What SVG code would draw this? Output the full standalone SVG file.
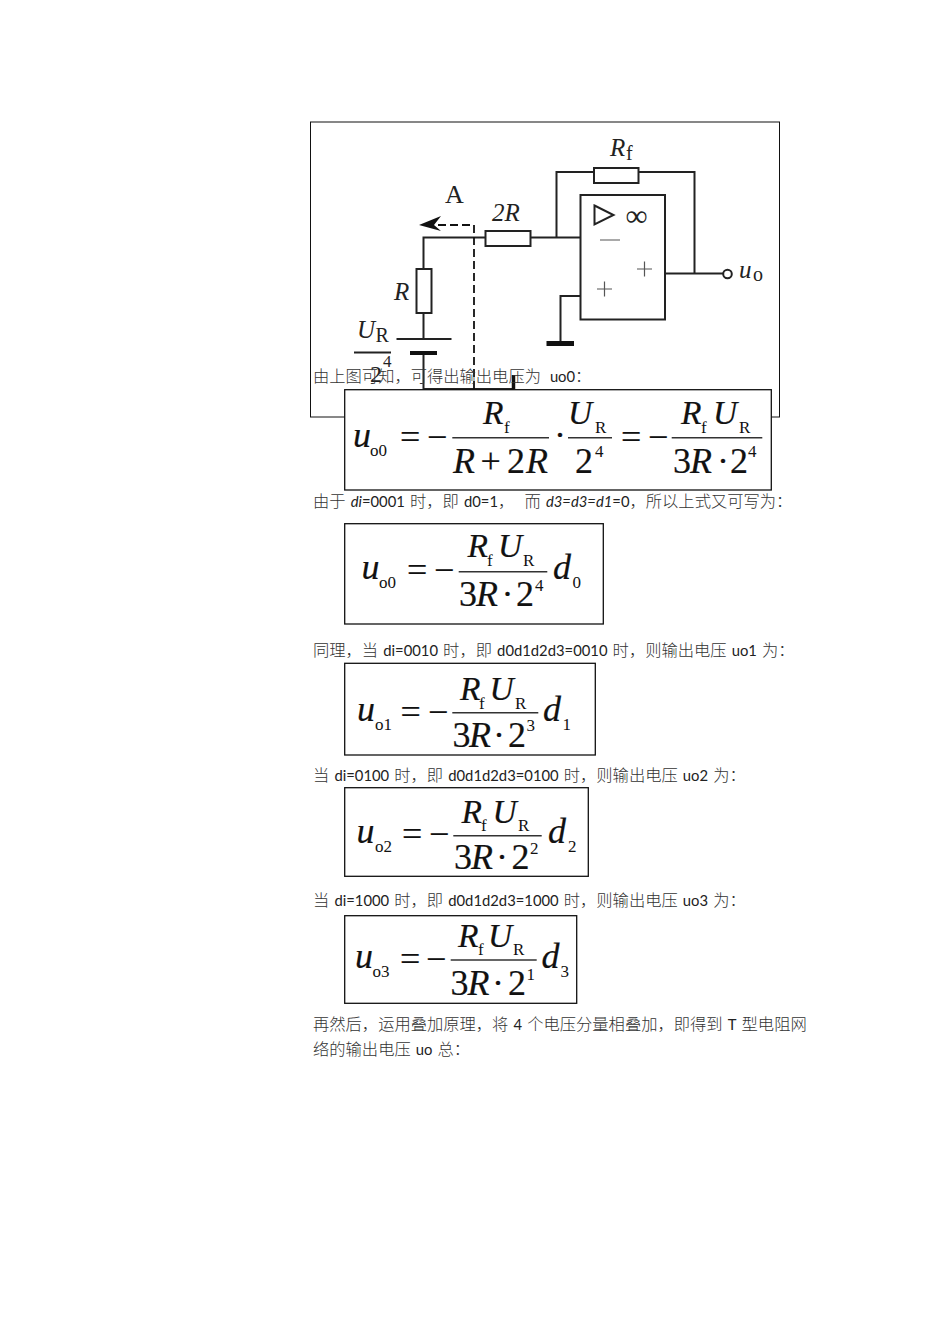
<svg xmlns="http://www.w3.org/2000/svg" width="950" height="1344" viewBox="0 0 950 1344">
<style>
.w{fill:none;stroke:#222;stroke-width:2}
.b{fill:#fff;stroke:#111;stroke-width:1.3}
.c{fill:#fff;stroke:#222;stroke-width:2}
.t{font-family:"Lato","Noto Sans CJK SC",sans-serif;font-size:16.3px;fill:#333;font-weight:300;white-space:pre;word-spacing:.7px}
.t tspan{font-weight:400;font-size:14.8px;fill:#222}
.t .i{font-style:italic}
.e,.ei,.s{font-family:"Liberation Serif",serif;fill:#111}
.e{font-size:36px;stroke:#111;stroke-width:.2}
.ei{font-size:36px;font-style:italic;stroke:#111;stroke-width:.2}
.n{font-size:33.500px;font-style:italic;font-family:"Liberation Serif",serif;fill:#111;stroke:#111;stroke-width:.2}
.s{font-size:17px}
.q{stroke:#333;stroke-width:1.6;fill:none}
.ce,.cei,.cs{font-family:"Liberation Serif",serif;fill:#222}
.ce{font-size:24px}
.cei{font-size:25px;font-style:italic}
.cs{font-size:20px}
</style>
<rect width="950" height="1344" fill="#fff"/>
<rect id="frame" x="310.500" y="122" width="469" height="295" fill="#fff" stroke="#111" stroke-width="1"/>
<g id="connectors">
<path class="w" d="M423.500 269V237.500H485M530.500 237.500H580M556.500 237.500V172H594M638.500 172H694.500V273.500M665 273.500H723.500"/>
<path class="w" d="M423.500 313V339M423.500 353V389H514"/>
<path class="w" d="M580 296H560.500V343"/>
<path d="M474 389V225H436" fill="none" stroke="#111" stroke-width="1.800" stroke-dasharray="8 4"/>
<path d="M419 225L441 216L434 225L441 231Z" fill="#111"/>
<path d="M513.500 375V389" stroke="#111" stroke-width="3.500" fill="none"/>
</g>
<g id="resistor-rf"><rect class="c" x="594" y="168" width="44.500" height="15"/>
<text class="cei" x="610" y="156">R</text><text class="cs" x="626" y="160">f</text></g>
<g id="resistor-2r"><rect class="c" x="485.500" y="231" width="45" height="15"/>
<text class="cei" x="492" y="221">2R</text></g>
<g id="resistor-r"><rect class="c" x="416.500" y="269" width="15" height="44"/>
<text class="cei" x="394" y="300">R</text></g>
<g id="opamp"><rect class="c" x="580.500" y="195" width="84.500" height="124.500"/>
<path d="M594.500 205.500L613.500 215L594.500 224.500Z" fill="#fff" stroke="#222" stroke-width="2"/>
<text class="ce" x="625.500" y="226" style="font-size:31px">∞</text>
<path d="M600 240H620M637 269H652M644.500 261.500V276.500M597 289H612M604.500 281.500V296.500" stroke="#555" stroke-width="1.200" fill="none"/></g>
<g id="output"><circle cx="727.500" cy="274" r="4.300" fill="#fff" stroke="#222" stroke-width="2"/>
<text class="cei" x="739" y="278">u</text><text class="cs" x="753" y="281">o</text></g>
<g id="ground"><rect x="546.500" y="341" width="27.500" height="5" fill="#111"/></g>
<g id="battery"><path d="M396.500 339H451.500" stroke="#222" stroke-width="2"/><rect x="410" y="351" width="27" height="4" fill="#111"/>
<text class="cei" x="357" y="338">U</text><text class="cs" x="375.500" y="342">R</text>
<path d="M354 352.500H391" stroke="#222" stroke-width="2"/>
<text class="ce" x="370" y="382">2</text><text class="cs" x="383" y="367" style="font-size:17px">4</text></g>
<g id="label-a"><text class="ce" x="445" y="203" style="font-size:26px">A</text></g>

<g id="text-1"><text class="t" x="313" y="382" style="word-spacing:4.500px">由上图可知，可得出输出电压为 <tspan>uo0</tspan>：</text></g>

<g id="formula-0">
<rect class="b" x="344.700" y="389.700" width="426.600" height="100.300"/>
<text class="ei" x="353" y="447">u</text><text class="s" x="370" y="456">o0</text>
<text class="e" x="400" y="449">=</text><text class="e" x="427" y="449">−</text>
<path class="q" d="M452.300 437.700H549M568 437.700H612M671.700 437.700H762.300"/>
<text class="n" x="483" y="424">R</text><text class="s" x="504" y="433">f</text>
<text class="e" x="453" y="473" font-style="italic">R</text><text class="e" x="480.500" y="473">+</text><text class="e" x="507" y="473">2</text><text class="e" x="526" y="473" font-style="italic">R</text>
<text class="e" x="554" y="447">·</text>
<text class="n" x="568" y="424">U</text><text class="s" x="595" y="433">R</text>
<text class="e" x="575" y="473">2</text><text class="s" x="595" y="457">4</text>
<text class="e" x="621" y="449">=</text><text class="e" x="648" y="449">−</text>
<text class="n" x="681" y="424">R</text><text class="s" x="701" y="433">f</text><text class="n" x="713" y="424">U</text><text class="s" x="739" y="433">R</text>
<text class="e" x="673" y="473">3</text><text class="e" x="690" y="473" font-style="italic">R</text><text class="e" x="717" y="473">·</text><text class="e" x="730" y="473">2</text><text class="s" x="748" y="457">4</text>
</g>

<g id="text-2"><text class="t" x="313" y="507">由于 <tspan class="i">di</tspan><tspan>=0001</tspan> 时，即 <tspan>d0=1</tspan>，  而 <tspan class="i">d3=d3=d1</tspan><tspan>=0</tspan>，所以上式又可写为：</text></g>

<g id="formula-1">
<rect class="b" x="344.700" y="523.700" width="258.600" height="100.300"/>
<text class="ei" x="361.500" y="579">u</text><text class="s" x="379" y="588">o0</text>
<text class="e" x="407" y="582">=</text><text class="e" x="434" y="582">−</text>
<path class="q" d="M458.700 571.700H547.300"/>
<text class="n" x="467.500" y="557">R</text><text class="s" x="487" y="566">f</text><text class="n" x="498" y="557">U</text><text class="s" x="523" y="566">R</text>
<text class="e" x="459" y="606">3</text><text class="e" x="476" y="606" font-style="italic">R</text><text class="e" x="501.500" y="606">·</text><text class="e" x="516" y="606">2</text><text class="s" x="535" y="591">4</text>
<text class="ei" x="553" y="579">d</text><text class="s" x="572.500" y="588">0</text>
</g>

<g id="text-3"><text class="t" x="313" y="656">同理，当 <tspan>di=0010</tspan> 时，即 <tspan>d0d1d2d3=0010</tspan> 时，则输出电压 <tspan>uo1</tspan> 为：</text></g>

<g id="formula-2">
<rect class="b" x="344.700" y="663.300" width="250.600" height="91.700"/>
<text class="ei" x="357" y="721">u</text><text class="s" x="375" y="730">o1</text>
<text class="e" x="400.500" y="723.500">=</text><text class="e" x="428" y="723.500">−</text>
<path class="q" d="M452.300 712.700H538.300"/>
<text class="n" x="460" y="700">R</text><text class="s" x="479" y="709">f</text><text class="n" x="489.500" y="700">U</text><text class="s" x="515" y="709">R</text>
<text class="e" x="452.500" y="747">3</text><text class="e" x="469" y="747" font-style="italic">R</text><text class="e" x="493" y="747">·</text><text class="e" x="508" y="747">2</text><text class="s" x="526.500" y="731">3</text>
<text class="ei" x="543" y="721">d</text><text class="s" x="562.500" y="730">1</text>
</g>

<g id="text-4"><text class="t" x="313" y="781">当 <tspan>di=0100</tspan> 时，即 <tspan>d0d1d2d3=0100</tspan> 时，则输出电压 <tspan>uo2</tspan> 为：</text></g>

<g id="formula-3">
<rect class="b" x="344.700" y="787.700" width="243.600" height="88.600"/>
<text class="ei" x="356.500" y="843">u</text><text class="s" x="375" y="852">o2</text>
<text class="e" x="402" y="846">=</text><text class="e" x="429" y="846">−</text>
<path class="q" d="M453.300 835.700H541.700"/>
<text class="n" x="461.500" y="823">R</text><text class="s" x="481" y="831">f</text><text class="n" x="492.500" y="823">U</text><text class="s" x="518" y="831">R</text>
<text class="e" x="454" y="869">3</text><text class="e" x="471" y="869" font-style="italic">R</text><text class="e" x="496" y="869">·</text><text class="e" x="511.500" y="869">2</text><text class="s" x="530" y="854">2</text>
<text class="ei" x="548" y="843">d</text><text class="s" x="568" y="852">2</text>
</g>

<g id="text-5"><text class="t" x="313" y="905.500">当 <tspan>di=1000</tspan> 时，即 <tspan>d0d1d2d3=1000</tspan> 时，则输出电压 <tspan>uo3</tspan> 为：</text></g>

<g id="formula-4">
<rect class="b" x="344.700" y="915.700" width="232" height="87.600"/>
<text class="ei" x="355" y="968">u</text><text class="s" x="372.500" y="977">o3</text>
<text class="e" x="400" y="971">=</text><text class="e" x="426" y="971">−</text>
<path class="q" d="M450.700 960H536.700"/>
<text class="n" x="458" y="947">R</text><text class="s" x="478" y="955">f</text><text class="n" x="488" y="947">U</text><text class="s" x="513" y="955">R</text>
<text class="e" x="450.500" y="995">3</text><text class="e" x="467.500" y="995" font-style="italic">R</text><text class="e" x="492" y="995">·</text><text class="e" x="508" y="995">2</text><text class="s" x="526.500" y="980">1</text>
<text class="ei" x="541.500" y="968">d</text><text class="s" x="560.500" y="977">3</text>
</g>

<g id="text-6"><text class="t" x="313" y="1030">再然后，运用叠加原理，将 <tspan>4</tspan> 个电压分量相叠加，即得到 <tspan>T</tspan> 型电阻网</text>
<text class="t" x="313" y="1055">络的输出电压 <tspan>uo</tspan> 总：</text></g>
</svg>
